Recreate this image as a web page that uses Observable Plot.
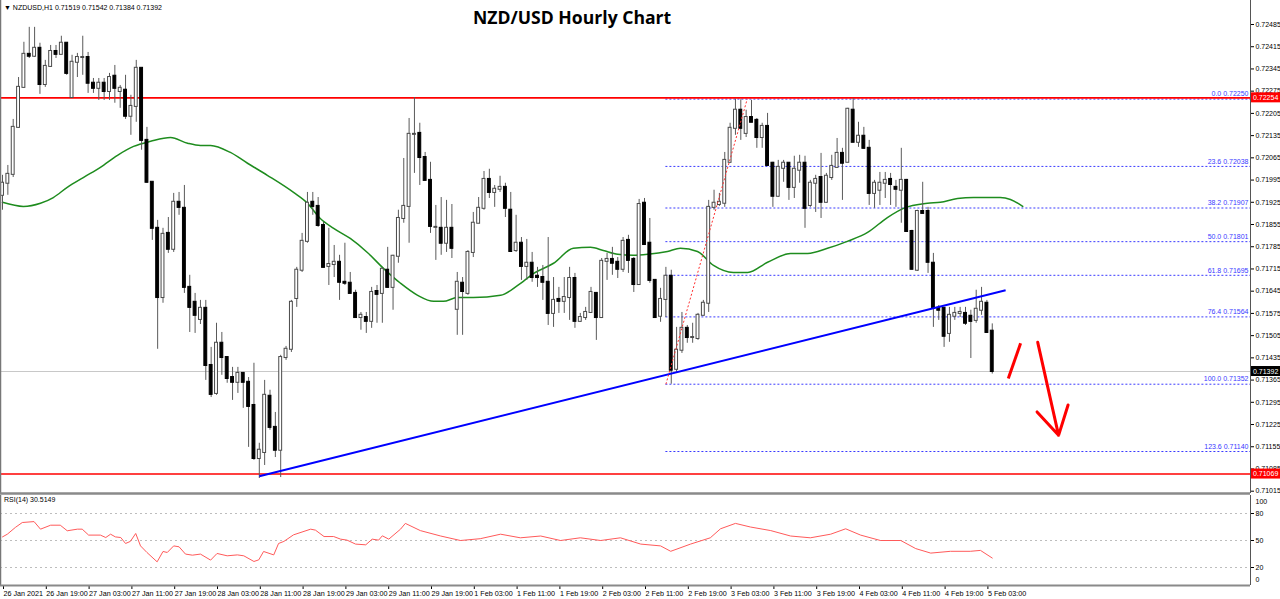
<!DOCTYPE html>
<html><head><meta charset="utf-8">
<script src="https://cdn.jsdelivr.net/npm/d3@7"></script>
<script src="https://cdn.jsdelivr.net/npm/@observablehq/plot@0.6"></script>
<style>
body{margin:0;background:#fff;}
#wrap{position:relative;width:1280px;height:599px;overflow:hidden;background:#fff;font-family:"Liberation Sans",Arial,sans-serif;}
#main{position:absolute;left:0;top:0;}
#rsi{position:absolute;left:0;top:493px;}
#title{position:absolute;left:473px;top:5px;font:700 17.6px "Open Sans",sans-serif;color:#000;white-space:nowrap;}
#hdr{position:absolute;left:4px;top:4px;font-size:7px;color:#000;white-space:nowrap;}
#rsilab{position:absolute;left:4px;top:496px;font-size:7px;color:#000;white-space:nowrap;}
</style></head><body>
<div id="wrap">
  <div id="main"></div>
  <div id="rsi"></div>
  <div id="hdr"></div>
  <div id="title"></div>
  <div id="rsilab"></div>
</div>
<script>
// ---------------- data ----------------
const symbol = "NZDUSD,H1";
const chartTitle = "NZD/USD Hourly Chart";
const rsiName = "RSI(14)";
const rsiLast = "30.5149";

const open = [.71947,.71985,.72013,.72161,.72287,.72391,.72385,.72410,.72296,.72353,
.72400,.72391,.72426,.72255,.72366,.72381,.72381,.72300,.72284,.72300,
.72274,.72322,.72274,.72278,.72196,.72227,.72347,.72120,.71988,.71843,
.71625,.71827,.71777,.71925,.71906,.71657,.71610,.71556,.71591,.71411,
.71323,.71481,.71436,.71373,.71358,.71386,.71358,.71285,.71118,.71137,
.71314,.71216,.71144,.71436,.71462,.71622,.71711,.71802,.71925,.71912,
.71852,.71723,.71729,.71736,.71673,.71670,.71638,.71562,.71562,.71550,
.71644,.71638,.71711,.71657,.71755,.71874,.71912,.72139,.72142,.72066,
.71994,.71846,.71843,.71796,.71843,.71588,.71670,.71638,.71767,.71859,
.71906,.71997,.71956,.71966,.71972,.71900,.71773,.71796,.71723,.71733,
.71692,.71688,.71673,.71575,.71619,.71613,.71625,.71685,.71550,.71562,
.71578,.71638,.71562,.71739,.71745,.71736,.71714,.71805,.71745,.71666,
.71922,.71796,.71679,.71566,.71619,.71692,.71399,.71459,.71528,.71499,
.71496,.71569,.71607,.71909,.71918,.71922,.72051,.72158,.72215,.72142,
.72192,.72183,.72129,.72164,.72048,.71944,.72032,.72048,.71972,.72026,
.72048,.71915,.71985,.72003,.71925,.72003,.72035,.72079,.72051,.72215,
.72114,.72133,.72095,.71953,.71963,.71985,.71997,.71972,.71963,.71994,
.71833,.71711,.71896,.71896,.71733,.71591,.71591,.71512,.71566,.71575,
.71575,.71566,.71553,.71585,.71607,.71519];
const high = [.72010,.72041,.72186,.72318,.72429,.72476,.72476,.72426,.72372,.72419,
.72419,.72448,.72426,.72388,.72394,.72448,.72397,.72315,.72315,.72315,
.72331,.72356,.72293,.72325,.72262,.72372,.72347,.72161,.71988,.71868,
.71843,.71877,.71953,.71956,.71978,.71695,.71638,.71616,.71616,.71468,
.71544,.71515,.71436,.71405,.71405,.71389,.71373,.71418,.71166,.71364,
.71333,.71263,.71443,.71471,.71616,.71720,.71827,.71956,.71956,.71940,
.71862,.71843,.71789,.71758,.71796,.71704,.71648,.71578,.71578,.71657,
.71663,.71717,.71783,.71758,.71900,.72063,.72189,.72255,.72174,.72082,
.72051,.71915,.71940,.71931,.71918,.71704,.71688,.71773,.71893,.71940,
.72022,.72029,.71978,.72007,.71985,.71956,.71884,.71814,.71808,.71767,
.71720,.71726,.71814,.71688,.71657,.71688,.71720,.71701,.71575,.71594,
.71657,.71641,.71748,.71764,.71783,.71751,.71814,.71821,.71751,.71934,
.71937,.71874,.71682,.71654,.71720,.71711,.71531,.71578,.71537,.71544,
.71575,.71616,.71931,.71963,.71953,.72082,.72174,.72250,.72248,.72215,
.72246,.72189,.72174,.72205,.72051,.72057,.72057,.72048,.72070,.72073,
.72070,.71994,.72010,.72079,.72016,.72073,.72126,.72095,.72221,.72252,
.72177,.72161,.72120,.71994,.72019,.72019,.72016,.71994,.72095,.71997,
.71837,.71900,.71988,.71909,.71764,.71600,.71594,.71594,.71594,.71594,
.71594,.71585,.71648,.71657,.71616,.71542];
const low = [.71900,.71947,.72003,.72158,.72284,.72378,.72381,.72265,.72287,.72350,
.72378,.72391,.72325,.72252,.72318,.72325,.72268,.72268,.72246,.72246,
.72246,.72237,.72221,.72186,.72136,.72177,.72089,.71985,.71805,.71462,
.71607,.71764,.71767,.71884,.71638,.71515,.71512,.71540,.71364,.71310,
.71317,.71380,.71355,.71301,.71323,.71276,.71153,.71112,.71055,.71096,
.71207,.71121,.71058,.71427,.71452,.71594,.71704,.71796,.71884,.71846,
.71720,.71663,.71688,.71616,.71663,.71638,.71559,.71522,.71512,.71528,
.71544,.71544,.71654,.71585,.71733,.71859,.71796,.72016,.71978,.71994,
.71827,.71742,.71758,.71767,.71748,.71506,.71506,.71632,.71751,.71859,
.71900,.71937,.71909,.71956,.71877,.71767,.71767,.71679,.71679,.71673,
.71657,.71616,.71537,.71531,.71575,.71575,.71553,.71528,.71547,.71553,
.71575,.71490,.71559,.71679,.71695,.71685,.71704,.71701,.71641,.71663,
.71789,.71670,.71559,.71547,.71562,.71352,.71386,.71449,.71481,.71481,
.71490,.71569,.71578,.71900,.71912,.71909,.72048,.72136,.72120,.72129,
.72177,.72095,.72095,.72041,.71909,.71940,.71988,.71931,.71937,.71985,
.71843,.71909,.71893,.71874,.71922,.71994,.72032,.71931,.72051,.72114,
.72098,.72092,.71915,.71906,.71915,.71937,.71915,.71909,.71859,.71830,
.71711,.71707,.71890,.71701,.71531,.71553,.71468,.71484,.71553,.71562,
.71537,.71433,.71544,.71569,.71512,.71384];
const close = [.71985,.72013,.72161,.72287,.72391,.72385,.72410,.72296,.72353,.72400,
.72391,.72426,.72331,.72366,.72381,.72381,.72300,.72284,.72300,.72274,
.72318,.72284,.72284,.72196,.72227,.72347,.72120,.71988,.71843,.71625,
.71824,.71777,.71925,.71909,.71657,.71594,.71569,.71591,.71411,.71320,
.71481,.71436,.71370,.71358,.71386,.71358,.71282,.71118,.71144,.71317,
.71216,.71144,.71436,.71462,.71610,.71711,.71802,.71922,.71912,.71852,
.71720,.71729,.71736,.71673,.71670,.71638,.71562,.71569,.71550,.71641,
.71635,.71714,.71657,.71755,.71874,.71912,.72139,.72139,.72066,.71994,
.71849,.71846,.71796,.71843,.71780,.71673,.71644,.71767,.71859,.71906,
.71997,.71956,.71966,.71972,.71906,.71770,.71796,.71723,.71733,.71688,
.71688,.71673,.71575,.71616,.71613,.71625,.71685,.71550,.71562,.71578,
.71641,.71562,.71739,.71745,.71733,.71714,.71802,.71742,.71666,.71918,
.71792,.71679,.71562,.71619,.71692,.71396,.71459,.71528,.71499,.71499,
.71569,.71607,.71909,.71922,.71925,.72057,.72158,.72215,.72158,.72192,
.72177,.72129,.72164,.72041,.71944,.72035,.72048,.71972,.72029,.72048,
.71906,.71985,.71997,.71925,.72007,.72038,.72079,.72048,.72218,.72114,
.72133,.72095,.71953,.71985,.71985,.71994,.71981,.71966,.71994,.71833,
.71714,.71896,.71890,.71736,.71591,.71585,.71503,.71569,.71575,.71578,
.71544,.71550,.71588,.71610,.71515,.71392];

// 60-period moving average (bar index positions)
const maIdx = [0,3.9,7.1,9.5,12.1,15.1,18.3,21.5,24.5,27.7,31.4,34.6,37,38.9,42.6,45.8,49.5,54.4,57,59.4,61.9,65,68.2,71.2,74.4,77.6,80.6,82.4,85,88,93.1,96.3,99.3,103,106.7,109.9,112.3,115,117.9,120.6,124.3,126.7,129.9,132.9,136.6,139.3,143,147.3,150.5,154.2,157.9,161.7,165.4,168.4,172.9,175.3,178.5,181.5,186.5,188.4,190.7];
const maVal = [.71925,.71912,.71922,.71940,.71972,.72003,.72035,.72073,.72101,.72117,.72129,.72111,.72104,.72104,.72082,.72048,.72010,.71956,.71922,.71874,.71843,.71811,.71767,.71717,.71670,.71632,.71613,.71613,.71625,.71625,.71632,.71663,.71701,.71733,.71780,.71783,.71773,.71761,.71758,.71761,.71770,.71780,.71770,.71726,.71704,.71704,.71736,.71764,.71764,.71780,.71802,.71830,.71877,.71906,.71922,.71925,.71937,.71940,.71940,.71934,.71912];

// RSI(14)
const rsiIdx = [0,0.9,2.4,3.7,5.9,7.1,9,10.8,12.1,14,14.9,16.1,18.3,19.3,20.2,21.1,22.1,23,23.9,24.9,25.8,27,28.9,30,30.8,32,33,34.2,35.5,37,38.9,40.1,42,43.9,45.1,47,47.9,48.8,50.7,51.6,52.6,54.4,57.6,58.5,60.1,61.9,63.2,64.4,66,67.9,69.1,70.3,71,72.2,74.4,75.3,78.1,81.9,85.6,89.3,93.1,96.8,100.6,104.3,108,111.8,115.5,119.3,123,124.9,128.6,132.3,134.2,137,139.8,143.6,147.3,151,154.8,157.6,160.4,164.1,167.9,170.7,173.5,177.2,180.9,182.8,185];
const rsiVal = [54,57,64.5,70,71,62.6,67,67,60.8,62.6,62.6,56,56,53.3,57,54,53.3,46.7,49,57.8,44,36.7,26.3,37.8,36.7,44,43,34.9,33.7,34.9,28.2,35.6,33,34,33,26.7,28.5,37.8,34,46.7,49,56.3,62.6,61.5,54.4,54.4,51.5,50.4,46,45.2,51.5,50.4,55.2,51.5,62.6,69,61,55,50,52,57,53,55,50,53,50,53,46,44,38,46,53,63,69,65,61,55,53,57,63,56,50,50,41,36,38,38,39,30.5];

// Levels
const resistance = 0.72254, support = 0.71069, lastPrice = 0.71392;
const fibPct = ["0.0","23.6","38.2","50.0","61.8","76.4","100.0","123.6"];
const fibVal = [0.72250,0.72038,0.71907,0.71801,0.71695,0.71564,0.71352,0.71140];
const fibStartIdx = 124, fibEndIdx = 139.2;
const trendIdx = [48, 187.5], trendVal = [0.71062, 0.71648];
const upStrokeIdx = [188, 190.3], upStrokeVal = [0.71370, 0.71481];
const arrowIdx = [193.5, 197.4], arrowVal = [0.71484, 0.71191];

const yTicks = [0.72485,0.72415,0.72345,0.72275,0.72205,0.72135,0.72065,0.71995,0.71925,0.71855,0.71785,0.71715,0.71645,0.71575,0.71505,0.71435,0.71365,0.71295,0.71225,0.71155,0.71085,0.71015];
const timeLabels = ["26 Jan 2021","26 Jan 19:00","27 Jan 03:00","27 Jan 11:00","27 Jan 19:00","28 Jan 03:00","28 Jan 11:00","28 Jan 19:00","29 Jan 03:00","29 Jan 11:00","29 Jan 19:00","1 Feb 03:00","1 Feb 11:00","1 Feb 19:00","2 Feb 03:00","2 Feb 11:00","2 Feb 19:00","3 Feb 03:00","3 Feb 11:00","3 Feb 19:00","4 Feb 03:00","4 Feb 11:00","4 Feb 19:00","5 Feb 03:00"];
const barsPerLabel = 8;

// ---------------- layout ----------------
const plotRight = 1250, pxPerBar = 5.35, firstBarX = 2;
const xDomain = [-firstBarX / pxPerBar, (plotRight - firstBarX) / pxPerBar];
const mainH = 493;
const pxPerUnit = (490.7 - 24) / (yTicks[0] - yTicks[yTicks.length - 1]);
const yHi = yTicks[0] + 24 / pxPerUnit, yLo = yHi - mainH / pxPerUnit;

const bars = open.map((o, i) => ({i, o, h: high[i], l: low[i], c: close[i]}));
const up = bars.filter(d => d.c >= d.o), dn = bars.filter(d => d.c < d.o);
const bodyHalf = 0.27;
const ma = maIdx.map((x, k) => ({x, y: maVal[k]}));
const rsi = rsiIdx.map((x, k) => ({x, y: rsiVal[k]}));
const fib = fibPct.map((p, k) => ({p, v: fibVal[k]}));
const fmt5 = d3.format(".5f");

document.getElementById("hdr").textContent = "\u25BC " + symbol + "  " + [open[185], high[185], low[185], close[185]].map(fmt5).join(" ");
document.getElementById("title").textContent = chartTitle;
document.getElementById("rsilab").textContent = rsiName + " " + rsiLast;

const style = {fontFamily: "Liberation Sans, Arial, sans-serif", fontSize: "7px", background: "transparent", overflow: "visible"};

const main = Plot.plot({
  width: 1280, height: mainH, marginLeft: 0, marginRight: 30, marginTop: 0, marginBottom: 0,
  style,
  x: {domain: xDomain, axis: null},
  y: {domain: [yLo, yHi], axis: null},
  marks: [
    Plot.ruleY([lastPrice], {stroke: "#c8c8c8", strokeWidth: 1}),
    Plot.ruleY(fib, {y: "v", x1: fibStartIdx, x2: xDomain[1], stroke: "#3a3aff", strokeDasharray: "2,2", strokeWidth: 1}),
    Plot.ruleY([resistance, support], {stroke: "#ff0000", strokeWidth: 1.6}),
    Plot.line(ma, {x: "x", y: "y", stroke: "#1e8c1e", strokeWidth: 1.5, curve: "monotone-x"}),
    Plot.ruleX(bars, {x: "i", y1: "l", y2: "h", stroke: "#5a5a5a", strokeWidth: 1}),
    Plot.rect(up, {x1: d => d.i - bodyHalf, x2: d => d.i + bodyHalf, y1: "o", y2: "c", fill: "#fff", stroke: "#4a4a4a", strokeWidth: 1, insetTop: -0.5, insetBottom: -0.5}),
    Plot.rect(dn, {x1: d => d.i - bodyHalf, x2: d => d.i + bodyHalf, y1: "o", y2: "c", fill: "#000", stroke: "#000", strokeWidth: 1, insetTop: -0.5, insetBottom: -0.5}),
    Plot.link([0], {x1: () => trendIdx[0], y1: () => trendVal[0], x2: () => trendIdx[1], y2: () => trendVal[1], stroke: "#0000ff", strokeWidth: 2}),
    Plot.link([0], {x1: () => fibStartIdx, y1: () => fibVal[6], x2: () => fibEndIdx, y2: () => fibVal[0], stroke: "#ff3030", strokeWidth: 1, strokeDasharray: "2,2"}),
    Plot.text(fib, {y: "v", text: d => d.p + " " + fmt5(d.v), frameAnchor: "right", textAnchor: "end", dx: -2, dy: -5, fill: "#3a3aff", fontSize: 7}),
    Plot.link([0], {x1: () => upStrokeIdx[0], y1: () => upStrokeVal[0], x2: () => upStrokeIdx[1], y2: () => upStrokeVal[1], stroke: "#ff0000", strokeWidth: 3}),
    Plot.arrow([0], {x1: () => arrowIdx[0], y1: () => arrowVal[0], x2: () => arrowIdx[1], y2: () => arrowVal[1], stroke: "#ff0000", strokeWidth: 3, headLength: 16, bend: 0}),
    Plot.axisY({anchor: "right", ticks: yTicks, tickFormat: fmt5, tickSize: 3, tickPadding: 2, fontSize: 7, label: null}),
    Plot.ruleX([xDomain[0]], {stroke: "#777", strokeWidth: 1.5}),
    Plot.ruleX([xDomain[1]], {stroke: "#555", strokeWidth: 1}),
    Plot.ruleY([yLo], {stroke: "#8a8a8a", strokeWidth: 2.5})
  ]
});
document.getElementById("main").appendChild(main);

// axis price tags through Plot's y scale
const ys = main.scale("y");
const svg = d3.select(main);
[[resistance, "#ff0000"], [support, "#ff0000"], [lastPrice, "#000000"]].forEach(([v, bg]) => {
  const y = ys.apply(v);
  svg.append("rect").attr("x", plotRight + 1).attr("y", y - 5).attr("width", 29).attr("height", 10).attr("fill", bg);
  svg.append("text").attr("x", plotRight + 3).attr("y", y + 2.5).attr("fill", "#fff")
    .attr("text-anchor", "start")
    .attr("font-size", 7).attr("font-family", "Liberation Sans, Arial, sans-serif").text(fmt5(v));
});

const timeTicks = timeLabels.map((_, k) => k * barsPerLabel);
const rsiPlot = Plot.plot({
  width: 1280, height: 106, marginLeft: 0, marginRight: 30, marginTop: 2, marginBottom: 14,
  style,
  x: {domain: xDomain, axis: null},
  y: {domain: [0, 100], axis: null},
  marks: [
    Plot.ruleY([80, 50, 20], {stroke: "#bdbdbd", strokeDasharray: "2,3"}),
    Plot.line(rsi, {x: "x", y: "y", stroke: "#ff5a5a", strokeWidth: 1}),
    Plot.axisY({anchor: "right", ticks: [80, 50, 20], tickSize: 3, tickPadding: 2, fontSize: 7, label: null}),
    Plot.text(["100"], {frameAnchor: "top-right", textAnchor: "start", dx: 5, dy: 4, fontSize: 7}),
    Plot.text(["0"], {frameAnchor: "bottom-right", textAnchor: "start", dx: 5, dy: -4, fontSize: 7}),
    Plot.axisX({anchor: "bottom", ticks: timeTicks, tickFormat: d => timeLabels[d / barsPerLabel], textAnchor: "start", tickSize: 4, tickPadding: 1, dx: 1, fontSize: 7.2, label: null}),
    Plot.ruleX([xDomain[0]], {stroke: "#777", strokeWidth: 1.5}),
    Plot.ruleX([xDomain[1]], {stroke: "#555", strokeWidth: 1}),
    Plot.ruleY([0], {stroke: "#8a8a8a", strokeWidth: 2})
  ]
});
document.getElementById("rsi").appendChild(rsiPlot);
</script>
</body></html>
